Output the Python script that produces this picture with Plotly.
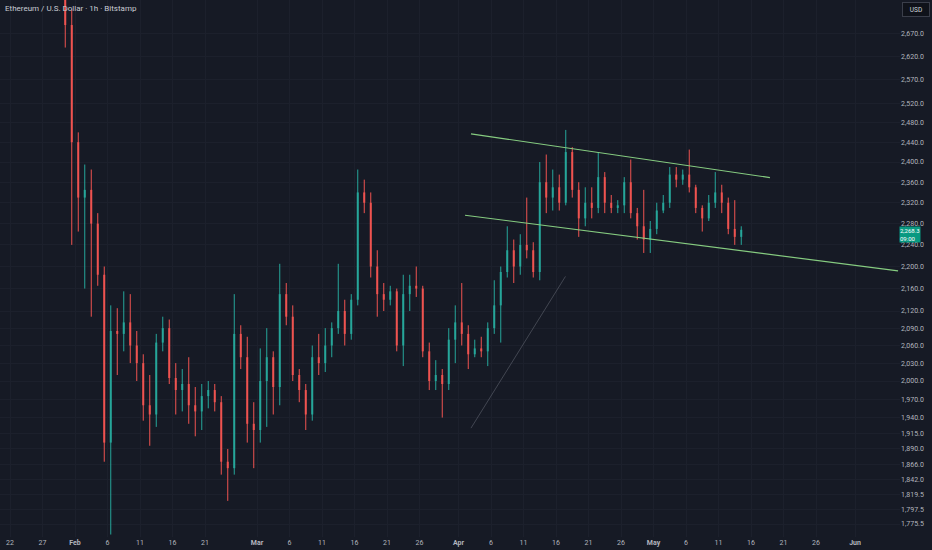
import math
import pandas as pd
import plotly.graph_objects as go

# ---------------- data (daily aggregation of the 1h candles) -------------
start_day = "2026-01-30 12:00"
opens = [2790, 2690, 2440, 2330, 2345, 2280, 2185, 1900, 2085, 2080, 2100, 2060, 2030, 1960, 1945, 2065,
         2090, 2005, 1985, 1995, 1960, 1950, 1975, 1985, 1965, 1870, 1860, 2080, 2040, 1930,
         1920, 2000, 2040, 1990, 2150, 2110, 2010, 1985, 1945, 2040, 2030, 2060, 2090, 2120, 2080, 2140,
         2340, 2320, 2200, 2150, 2140, 2155, 2060, 2150, 2165, 2160, 2050, 2000, 2010, 1995, 2070,
         2100, 2080, 2045, 2055, 2050, 2090, 2130, 2190, 2230, 2200, 2240, 2230, 2190, 2360, 2330,
         2350, 2320, 2420, 2345, 2290, 2320, 2310, 2370, 2320, 2310, 2315, 2360, 2300, 2275, 2250,
         2270, 2305, 2320, 2375, 2365, 2375, 2350, 2310, 2290, 2320, 2340, 2320, 2270, 2255]
highs = [2830, 2725, 2460, 2395, 2385, 2300, 2200, 2130, 2125, 2155, 2150, 2085, 2045, 2010, 2080, 2110,
         2105, 2030, 2020, 2040, 1990, 1995, 2000, 1995, 1975, 1890, 2150, 2095, 2075, 1965,
         2055, 2090, 2050, 2205, 2170, 2130, 2020, 1995, 2060, 2080, 2090, 2100, 2205, 2140, 2150, 2385,
         2365, 2340, 2230, 2170, 2165, 2160, 2185, 2185, 2200, 2165, 2065, 2035, 2020, 2090, 2130,
         2170, 2095, 2070, 2075, 2100, 2175, 2200, 2275, 2250, 2260, 2330, 2245, 2400, 2415, 2385,
         2375, 2465, 2430, 2360, 2350, 2350, 2420, 2380, 2335, 2325, 2370, 2405, 2310, 2345, 2285,
         2320, 2335, 2390, 2390, 2385, 2425, 2355, 2315, 2335, 2380, 2355, 2330, 2325, 2275]
lows = [2640, 2240, 2265, 2160, 2110, 2165, 1870, 1760, 2010, 2050, 2030, 2000, 1935, 1895, 1925, 2050,
        1995, 1945, 1950, 1930, 1910, 1920, 1955, 1950, 1850, 1810, 1850, 2020, 1900, 1860,
        1900, 1925, 1945, 1960, 2095, 2000, 1965, 1920, 1935, 2010, 2015, 2040, 2080, 2060, 2070, 2130,
        2300, 2180, 2110, 2120, 2130, 2050, 2025, 2120, 2145, 2040, 1985, 1985, 1940, 1985, 2030,
        2060, 2020, 2040, 2040, 2025, 2080, 2065, 2180, 2170, 2185, 2215, 2180, 2175, 2300, 2305,
        2305, 2315, 2330, 2255, 2275, 2290, 2300, 2300, 2300, 2300, 2300, 2290, 2250, 2225, 2225,
        2260, 2300, 2310, 2350, 2355, 2340, 2300, 2265, 2285, 2310, 2300, 2260, 2240, 2240]
closes = [2690, 2440, 2330, 2345, 2280, 2185, 1900, 2085, 2080, 2100, 2060, 2030, 1960, 1945, 2065, 2090,
          2005, 1985, 1995, 1960, 1950, 1975, 1985, 1965, 1870, 1860, 2080, 2040, 1930, 1920,
          2000, 2040, 1990, 2150, 2110, 2010, 1985, 1945, 2040, 2030, 2060, 2090, 2120, 2080, 2140, 2340,
          2320, 2200, 2150, 2140, 2155, 2060, 2150, 2165, 2160, 2050, 2000, 2010, 1995, 2070, 2100,
          2080, 2045, 2055, 2050, 2090, 2130, 2190, 2230, 2200, 2240, 2230, 2190, 2360, 2330, 2350,
          2320, 2420, 2345, 2290, 2320, 2310, 2370, 2320, 2310, 2315, 2360, 2300, 2275, 2250, 2270,
          2305, 2320, 2375, 2365, 2375, 2350, 2310, 2290, 2320, 2340, 2320, 2270, 2255, 2268.3]
last_price = 2268.3
countdown = "09:00"

# drawn trend lines (date, price)
upper_line_x = ["2026-04-02 22:00", "2026-05-18 22:00"]
upper_line_y = [2457, 2369]
lower_line_x = ["2026-04-02 00:00", "2026-06-07 15:00"]
lower_line_y = [2296, 2192]
faint_line_x = ["2026-04-02 22:00", "2026-04-17 11:00"]
faint_line_y = [1923, 2182]

x_tick_vals = ["2026-01-22", "2026-01-27", "2026-02-01", "2026-02-06", "2026-02-11", "2026-02-16",
               "2026-02-21", "2026-03-01", "2026-03-06", "2026-03-11", "2026-03-16", "2026-03-21",
               "2026-03-26", "2026-04-01", "2026-04-06", "2026-04-11", "2026-04-16", "2026-04-21",
               "2026-04-26", "2026-05-01", "2026-05-06", "2026-05-11", "2026-05-16", "2026-05-21",
               "2026-05-26", "2026-06-01"]
x_tick_text = ["22", "27", "<b>Feb</b>", "6", "11", "16", "21", "<b>Mar</b>", "6", "11", "16", "21",
               "26", "<b>Apr</b>", "6", "11", "16", "21", "26", "<b>May</b>", "6", "11", "16", "21",
               "26", "<b>Jun</b>"]
y_tick_vals = [1775.5, 1797.5, 1819.5, 1842.0, 1866.0, 1890.0, 1915.0, 1940.0, 1970.0, 2000.0,
               2030.0, 2060.0, 2090.0, 2120.0, 2160.0, 2200.0, 2240.0, 2280.0, 2320.0, 2360.0,
               2400.0, 2440.0, 2480.0, 2520.0, 2570.0, 2620.0, 2670.0]

# ---------------- figure ----------------
BG = "#161a25"
GRID = "#1c202c"
UP = "#26a69a"
DOWN = "#ef5350"
TXT = "#b2b5be"

dates = pd.date_range(start_day, periods=len(closes), freq="D")

wick = {True: ([], []), False: ([], [])}
body = {True: ([], []), False: ([], [])}
for d, o, h, l, c in zip(dates, opens, highs, lows, closes):
    up = c >= o
    wx, wy = wick[up]
    wx += [d, d, None]
    wy += [l, h, None]
    bx, by = body[up]
    bx += [d, d, None]
    by += [o, c, None]

fig = go.Figure()
for up, col in ((True, UP), (False, DOWN)):
    fig.add_trace(go.Scatter(x=wick[up][0], y=wick[up][1], mode="lines",
                             line=dict(color=col, width=1), hoverinfo="skip", showlegend=False))
    fig.add_trace(go.Scatter(x=body[up][0], y=body[up][1], mode="lines",
                             line=dict(color=col, width=2), hoverinfo="skip", showlegend=False))

fig.add_trace(go.Scatter(x=faint_line_x, y=faint_line_y, mode="lines",
                         line=dict(color="rgba(120,124,135,0.45)", width=1), showlegend=False))
for lx, ly in ((upper_line_x, upper_line_y), (lower_line_x, lower_line_y)):
    fig.add_trace(go.Scatter(x=lx, y=ly, mode="lines",
                             line=dict(color="#86cc80", width=1.2), showlegend=False))

fig.update_layout(
    width=932, height=550,
    margin=dict(l=0, r=32, t=0, b=13),
    paper_bgcolor=BG, plot_bgcolor=BG,
    font=dict(family="Roboto", size=7, color=TXT),
    showlegend=False,
    xaxis=dict(type="date", range=["2026-01-20 11:05", "2026-06-07 22:09"],
               tickmode="array", tickvals=x_tick_vals, ticktext=x_tick_text,
               showgrid=True, gridcolor=GRID, gridwidth=1, zeroline=False, showline=False,
               ticks="", tickfont=dict(size=7, color=TXT)),
    yaxis=dict(type="log", side="right", range=[3.24462, 3.43880],
               tickmode="array", tickvals=y_tick_vals, tickformat=",.1f",
               showgrid=True, gridcolor=GRID, gridwidth=1, zeroline=False, showline=False,
               ticks="", tickfont=dict(size=7, color=TXT)),
)

fig.add_annotation(xref="paper", yref="paper", x=0, y=1, xanchor="left", yanchor="top",
                   xshift=3, yshift=-2, showarrow=False,
                   text="Ethereum / U.S. Dollar · 1h · Bitstamp",
                   font=dict(size=8, color="#c9ccd4"))
fig.add_annotation(xref="paper", yref="paper", x=1, y=1, xanchor="left", yanchor="top",
                   xshift=2, yshift=-2, showarrow=False, text="USD", width=24, height=11,
                   bgcolor="#0f121a", bordercolor="#3a3e4a", borderwidth=1, borderpad=1,
                   font=dict(size=6.5, color="#d1d4dc"))
fig.add_annotation(xref="paper", yref="y", x=1, y=math.log10(last_price), xanchor="left",
                   yanchor="middle", xshift=-1, yshift=-5, showarrow=False,
                   text=f"{last_price:,.1f}<br>{countdown}", align="left",
                   bgcolor="#089981", borderpad=0, font=dict(size=6, color="#ffffff"))

fig.write_html("out.html", config={"displayModeBar": False},
               post_script="document.body.style.margin='0';document.body.style.overflow='hidden';")
